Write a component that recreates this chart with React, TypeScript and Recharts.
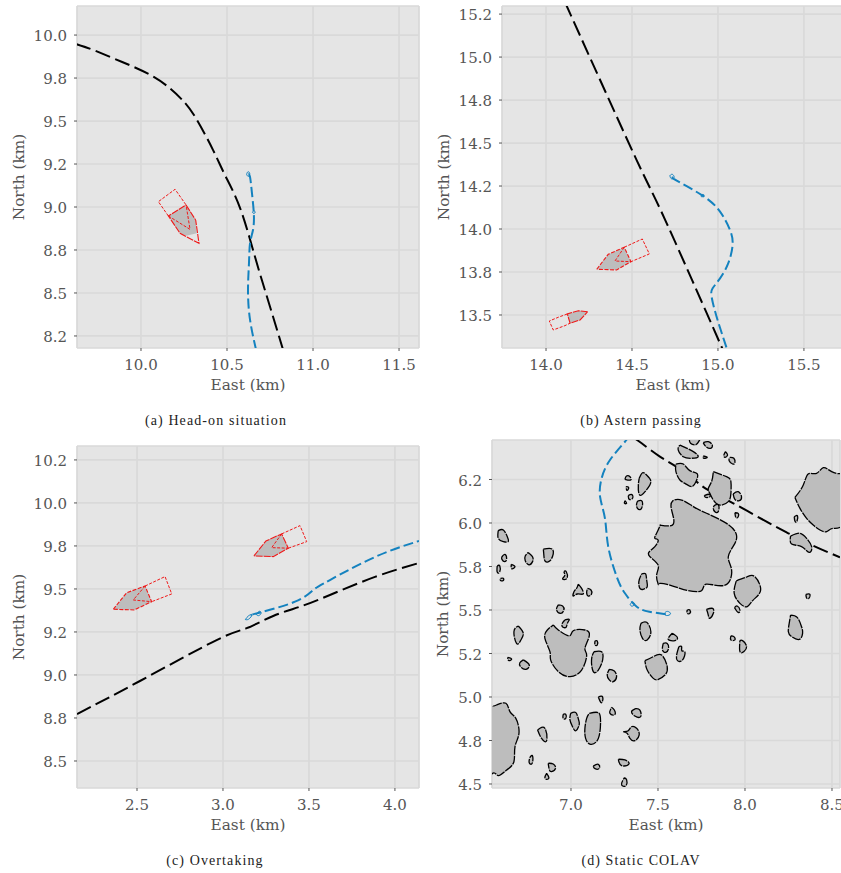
import { ScatterChart, Scatter, XAxis, YAxis, CartesianGrid } from "recharts";

type Pts = number[][];

const GRID = "#D9D9D9";
const TEXT = "#555555";
const BLUE = "#1482BF";
const RED = "#F01818";
const ROCK = "#BDBDBD";

// (a) Head-on situation
const aOwnPath: Pts = [[10.669,8.169],[10.634,8.343],[10.622,8.517],[10.628,8.68],[10.634,8.791],[10.651,8.866],[10.656,8.959],[10.645,9.081],[10.634,9.174],[10.624,9.19]];
const aOwnBlips: Pts[] = [
  [[10.648,8.97],[10.656,8.978],[10.664,8.97],[10.656,8.962]],
  [[10.614,9.19],[10.622,9.205],[10.632,9.195],[10.624,9.178]],
];
const aRefPath: Pts = [[9.622,9.948],[9.723,9.913],[9.839,9.865],[9.955,9.816],[10.072,9.758],[10.169,9.69],[10.237,9.626],[10.314,9.525],[10.419,9.331],[10.488,9.186],[10.576,8.994],[10.663,8.709],[10.738,8.459],[10.826,8.169]];
const aHull: Pts = [[10.262,9.012],[10.318,8.924],[10.337,8.789],[10.256,8.831],[10.227,8.847],[10.159,8.948],[10.262,9.012]];
const aShade: Pts = [[10.262,9.012],[10.318,8.924],[10.324,8.847],[10.256,8.831],[10.227,8.847],[10.159,8.948]];
const aZone: Pts = [[10.159,8.948],[10.101,9.031],[10.198,9.103],[10.262,9.012]];
const aWedge: Pts = [[10.159,8.948],[10.285,8.87],[10.262,9.012]];

// (b) Astern passing
const bOwnPath: Pts = [[14.74,14.3],[14.76,14.281],[14.911,14.194],[15.012,14.101],[15.07,13.994],[15.085,13.907],[15.06,13.801],[15.012,13.713],[14.969,13.655],[14.963,13.606],[14.992,13.49],[15.051,13.306]];
const bOwnBlips: Pts[] = [
  [[14.72,14.31],[14.735,14.318],[14.745,14.3],[14.73,14.292]],
  [[14.905,14.2],[14.917,14.2],[14.915,14.19],[14.903,14.188]],
];
const bRefPath: Pts = [[14.11,15.32],[14.527,14.401],[14.702,14.033],[15.012,13.335],[15.035,13.285]];
const bHull1: Pts = [[14.295,13.766],[14.362,13.853],[14.455,13.894],[14.494,13.81],[14.411,13.762],[14.295,13.766]];
const bZone1: Pts = [[14.455,13.894],[14.56,13.942],[14.601,13.855],[14.494,13.81]];
const bWedge1: Pts = [[14.455,13.894],[14.401,13.814],[14.494,13.81]];
const bHull2: Pts = [[14.242,13.519],[14.188,13.525],[14.124,13.506],[14.14,13.452],[14.198,13.471],[14.242,13.519]];
const bZone2: Pts = [[14.124,13.506],[14.072,13.487],[14.019,13.465],[14.042,13.413],[14.11,13.438],[14.14,13.452]];

// (c) Overtaking
const cOwnPath: Pts = [[3.167,9.349],[3.211,9.362],[3.419,9.426],[3.525,9.494],[3.622,9.552],[3.884,9.686],[4.14,9.779]];
const cOwnBlips: Pts[] = [
  [[3.13,9.322],[3.15,9.345],[3.168,9.348],[3.15,9.325]],
  [[3.195,9.35],[3.21,9.37],[3.222,9.36],[3.208,9.345]],
];
const cRefPath: Pts = [[2.151,8.773],[2.517,8.965],[2.963,9.203],[3.138,9.272],[3.292,9.343],[3.448,9.397],[3.622,9.465],[3.884,9.57],[4.14,9.651]];
const cHull1: Pts = [[3.18,9.692],[3.25,9.779],[3.341,9.82],[3.38,9.737],[3.292,9.688],[3.18,9.692]];
const cZone1: Pts = [[3.341,9.82],[3.448,9.868],[3.487,9.775],[3.38,9.737]];
const cWedge1: Pts = [[3.341,9.82],[3.283,9.74],[3.38,9.737]];
const cHull2: Pts = [[2.362,9.382],[2.44,9.478],[2.547,9.517],[2.585,9.426],[2.484,9.378],[2.362,9.382]];
const cZone2: Pts = [[2.547,9.517],[2.663,9.572],[2.702,9.471],[2.585,9.426]];
const cWedge2: Pts = [[2.547,9.517],[2.478,9.436],[2.585,9.426]];

// (d) Static COLAV
const dOwnPath: Pts = [[7.545,5.475],[7.45,5.49],[7.378,5.519],[7.31,5.596],[7.263,5.691],[7.214,5.864],[7.195,6.027],[7.167,6.151],[7.176,6.257],[7.224,6.362],[7.31,6.467],[7.328,6.494]];
const dOwnBlips: Pts[] = [
  [[7.535,5.48],[7.555,5.492],[7.572,5.478],[7.55,5.468]],
  [[7.34,5.53],[7.352,5.545],[7.366,5.535],[7.352,5.522]],
];
const dRefPath: Pts = [[7.362,6.489],[7.406,6.458],[7.511,6.381],[7.598,6.328],[7.722,6.237],[7.787,6.19],[7.933,6.113],[8.134,6.002],[8.249,5.941],[8.383,5.874],[8.546,5.803]];

const islandsWest: Pts[] = [
  [[6.582,5.956],[6.611,5.96],[6.634,5.921],[6.639,5.893],[6.611,5.893],[6.582,5.912]],
  [[6.603,5.806],[6.62,5.82],[6.63,5.797],[6.62,5.778],[6.603,5.791]],
  [[6.576,5.753],[6.591,5.753],[6.59,5.718],[6.576,5.718]],
  [[6.657,5.762],[6.678,5.749],[6.66,5.737]],
  [[6.595,5.682],[6.611,5.682],[6.611,5.67],[6.595,5.67]],
  [[6.754,5.831],[6.779,5.806],[6.779,5.778],[6.758,5.76],[6.737,5.783],[6.737,5.81]],
  [[6.841,5.85],[6.888,5.852],[6.898,5.822],[6.879,5.783],[6.852,5.78],[6.844,5.816]],
  [[6.959,5.72],[6.973,5.72],[6.977,5.682],[6.952,5.678],[6.963,5.695]],
  [[7.042,5.649],[7.061,5.624],[7.07,5.592],[7.036,5.592],[7.013,5.58],[7.017,5.605],[7.032,5.624]],
  [[7.095,5.624],[7.115,5.615],[7.118,5.592],[7.099,5.58],[7.09,5.6]],
  [[6.927,5.529],[6.952,5.523],[6.959,5.5],[6.94,5.481],[6.917,5.5]],
];

const islandsNorth: Pts[] = [
  [[7.31,6.251],[7.319,6.27],[7.339,6.266],[7.343,6.247]],
  [[7.392,6.257],[7.411,6.289],[7.434,6.276],[7.459,6.238],[7.434,6.19],[7.406,6.161],[7.39,6.17],[7.387,6.218]],
  [[7.316,6.209],[7.331,6.205],[7.327,6.19],[7.32,6.19]],
  [[7.329,6.157],[7.35,6.163],[7.354,6.142],[7.335,6.136]],
  [[7.31,6.128],[7.32,6.113],[7.308,6.113]],
  [[7.383,6.126],[7.406,6.128],[7.411,6.103],[7.4,6.078],[7.381,6.086],[7.377,6.109]],
  [[7.406,5.707],[7.429,5.707],[7.435,5.672],[7.438,5.634],[7.415,5.619],[7.396,5.624],[7.39,5.663]],
  [[7.68,6.488],[7.737,6.488],[7.737,6.473],[7.718,6.45],[7.687,6.458]],
  [[7.76,6.462],[7.789,6.467],[7.812,6.448],[7.802,6.429],[7.775,6.439]],
  [[7.626,6.448],[7.655,6.435],[7.703,6.41],[7.731,6.381],[7.693,6.372],[7.645,6.381],[7.616,6.42]],
  [[7.76,6.385],[7.783,6.377],[7.764,6.372]],
  [[7.888,6.41],[7.9,6.391],[7.885,6.377],[7.879,6.391]],
  [[7.913,6.377],[7.936,6.372],[7.942,6.347],[7.929,6.339],[7.909,6.358]],
  [[7.603,6.339],[7.645,6.339],[7.683,6.301],[7.726,6.282],[7.718,6.237],[7.693,6.209],[7.655,6.228],[7.626,6.247],[7.603,6.295]],
  [[7.818,6.295],[7.894,6.266],[7.919,6.238],[7.919,6.17],[7.904,6.123],[7.856,6.103],[7.818,6.132],[7.798,6.17],[7.789,6.199],[7.808,6.238]],
  [[7.932,6.167],[7.961,6.18],[7.98,6.151],[7.967,6.128],[7.942,6.136]],
  [[7.766,6.157],[7.795,6.165],[7.798,6.151],[7.775,6.147]],
  [[7.823,6.1],[7.848,6.103],[7.846,6.065],[7.827,6.065],[7.818,6.084]],
  [[7.942,6.059],[7.961,6.055],[7.961,6.036],[7.948,6.031]],
  [[8.283,6.036],[8.302,6.04],[8.298,6.008],[8.287,6.011]],
  [[8.262,5.925],[8.316,5.941],[8.354,5.912],[8.383,5.864],[8.369,5.831],[8.325,5.864],[8.268,5.879]],
];

const islandBig: Pts = [[7.511,5.988],[7.588,5.994],[7.578,6.075],[7.584,6.126],[7.636,6.132],[7.703,6.094],[7.779,6.056],[7.894,5.998],[7.948,5.941],[7.942,5.883],[7.904,5.806],[7.923,5.73],[7.885,5.643],[7.779,5.649],[7.75,5.611],[7.674,5.611],[7.626,5.624],[7.568,5.643],[7.511,5.653],[7.501,5.649],[7.492,5.701],[7.501,5.758],[7.454,5.806],[7.45,5.835],[7.482,5.864],[7.501,5.902],[7.482,5.912],[7.492,5.941],[7.511,5.983]];
const islandEast: Pts = [[8.287,6.147],[8.335,6.218],[8.363,6.282],[8.411,6.285],[8.45,6.318],[8.498,6.295],[8.551,6.285],[8.574,6.247],[8.574,6.017],[8.507,5.969],[8.469,5.95],[8.431,5.96],[8.392,5.988],[8.354,6.027],[8.316,6.084]];
const islandMidWest: Pts = [[6.898,5.414],[6.927,5.385],[6.99,5.351],[7.013,5.381],[7.08,5.385],[7.105,5.351],[7.08,5.28],[7.09,5.241],[7.061,5.155],[6.994,5.117],[6.927,5.146],[6.883,5.213],[6.879,5.261],[6.85,5.337],[6.864,5.385]];
const islandSouthWest: Pts = [[6.496,4.944],[6.534,4.944],[6.572,4.954],[6.626,4.964],[6.649,4.916],[6.683,4.877],[6.701,4.791],[6.678,4.714],[6.672,4.628],[6.63,4.58],[6.582,4.548],[6.549,4.561],[6.496,4.561]];

const islandsSouth: Pts[] = [
  [[7.95,5.668],[8.013,5.691],[8.057,5.691],[8.09,5.615],[8.047,5.557],[8.013,5.519],[7.971,5.538],[7.938,5.596]],
  [[8.35,5.59],[8.373,5.59],[8.367,5.567],[8.354,5.569]],
  [[7.94,5.513],[7.955,5.523],[7.971,5.5],[7.961,5.486]],
  [[7.668,5.5],[7.683,5.5],[7.683,5.481],[7.668,5.481]],
  [[7.779,5.504],[7.814,5.509],[7.818,5.481],[7.798,5.452],[7.789,5.471]],
  [[8.262,5.471],[8.3,5.458],[8.325,5.404],[8.331,5.366],[8.312,5.331],[8.268,5.347],[8.249,5.375],[8.254,5.423]],
  [[7.582,5.366],[7.611,5.343],[7.597,5.324],[7.559,5.331]],
  [[7.53,5.308],[7.553,5.308],[7.561,5.28],[7.545,5.257],[7.526,5.27]],
  [[7.62,5.289],[7.636,5.289],[7.637,5.266],[7.655,5.257],[7.641,5.213],[7.612,5.209],[7.607,5.241]],
  [[7.919,5.351],[7.936,5.347],[7.942,5.328],[7.919,5.328]],
  [[7.971,5.324],[7.986,5.324],[8.009,5.293],[7.994,5.261],[7.971,5.261]],
  [[7.425,5.209],[7.473,5.232],[7.521,5.241],[7.553,5.174],[7.54,5.126],[7.502,5.101],[7.473,5.107],[7.438,5.155]],
  [[6.697,5.408],[6.726,5.366],[6.71,5.324],[6.687,5.308],[6.672,5.375]],
  [[6.965,5.443],[6.99,5.446],[6.979,5.423],[6.971,5.4],[6.95,5.404],[6.952,5.427]],
  [[6.636,5.228],[6.659,5.218],[6.643,5.209]],
  [[6.726,5.213],[6.76,5.184],[6.741,5.159],[6.71,5.174],[6.706,5.197]],
  [[7.138,5.322],[7.151,5.322],[7.151,5.299],[7.138,5.299]],
  [[7.132,5.26],[7.176,5.26],[7.182,5.213],[7.157,5.155],[7.128,5.146],[7.118,5.213]],
  [[7.22,5.159],[7.247,5.151],[7.262,5.117],[7.243,5.088],[7.22,5.098],[7.208,5.126]],
  [[7.402,5.423],[7.435,5.429],[7.459,5.375],[7.438,5.328],[7.411,5.337],[7.396,5.385]],
  [[7.157,5.0],[7.182,5.0],[7.176,4.967]],
  [[7.233,4.941],[7.249,4.925],[7.251,4.898],[7.224,4.906]],
  [[7.371,4.933],[7.396,4.925],[7.4,4.887],[7.367,4.891],[7.348,4.916]],
  [[6.955,4.9],[6.97,4.9],[6.97,4.877],[6.955,4.877]],
  [[6.998,4.906],[7.028,4.91],[7.044,4.868],[7.047,4.839],[7.028,4.806],[7.009,4.829],[6.994,4.868]],
  [[7.105,4.906],[7.157,4.91],[7.17,4.858],[7.157,4.762],[7.113,4.728],[7.084,4.762],[7.08,4.82],[7.09,4.877]],
  [[6.808,4.81],[6.85,4.82],[6.86,4.749],[6.831,4.762]],
  [[6.764,4.653],[6.779,4.661],[6.777,4.619],[6.76,4.622]],
  [[6.869,4.619],[6.898,4.615],[6.911,4.59],[6.888,4.571],[6.875,4.584]],
  [[6.86,4.561],[6.873,4.536],[6.86,4.527],[6.85,4.538]],
  [[7.128,4.603],[7.157,4.613],[7.163,4.59],[7.138,4.588]],
  [[7.272,4.642],[7.31,4.638],[7.333,4.615],[7.291,4.605]],
  [[7.306,4.536],[7.32,4.523],[7.316,4.49],[7.291,4.494],[7.297,4.519]],
  [[7.3,4.801],[7.329,4.806],[7.348,4.829],[7.377,4.82],[7.392,4.782],[7.367,4.749],[7.339,4.762],[7.323,4.791]],
];

const aEastTicks = [10, 10.5, 11, 11.5];
const aEastLabels = ["10.0", "10.5", "11.0", "11.5"];
const aNorthTicks = [8.25, 8.5, 8.75, 9, 9.25, 9.5, 9.75, 10];
const aNorthLabels = ["8.2", "8.5", "8.8", "9.0", "9.2", "9.5", "9.8", "10.0"];
const bEastTicks = [14, 14.5, 15, 15.5];
const bEastLabels = ["14.0", "14.5", "15.0", "15.5"];
const bNorthTicks = [13.5, 13.75, 14, 14.25, 14.5, 14.75, 15, 15.25];
const bNorthLabels = ["13.5", "13.8", "14.0", "14.2", "14.5", "14.8", "15.0", "15.2"];
const cEastTicks = [2.5, 3, 3.5, 4];
const cEastLabels = ["2.5", "3.0", "3.5", "4.0"];
const cNorthTicks = [8.5, 8.75, 9, 9.25, 9.5, 9.75, 10, 10.25];
const cNorthLabels = ["8.5", "8.8", "9.0", "9.2", "9.5", "9.8", "10.0", "10.2"];
const dEastTicks = [7, 7.5, 8, 8.5];
const dEastLabels = ["7.0", "7.5", "8.0", "8.5"];
const dNorthTicks = [4.5, 4.75, 5, 5.25, 5.5, 5.75, 6, 6.25];
const dNorthLabels = ["4.5", "4.8", "5.0", "5.2", "5.5", "5.8", "6.0", "6.2"];

const toRows = (pts: Pts) => pts.map(([x, y]) => ({ x, y }));
const closed = (pts: Pts) => [...pts, pts[0]];
const noDot = () => <g />;

const drawPath = (pts: Pts, key: string, stroke: string, width: number, dash?: string, fill = "none", joint = "linear") => (
  <Scatter
    key={key}
    data={toRows(pts)}
    shape={noDot}
    lineJointType={joint as "linear"}
    line={{ stroke, strokeWidth: width, strokeDasharray: dash, fill }}
    isAnimationActive={false}
  />
);

interface PanelProps {
  left: number;
  top: number;
  width: number;
  height: number;
  xDomain: number[];
  yDomain: number[];
  xTicks: number[];
  yTicks: number[];
  xLabels: string[];
  yLabels: string[];
  titleOffset?: number;
  children: React.ReactNode;
}

const AXIS_W = 70;
const AXIS_H = 50;

const Panel = ({ left, top, width, height, xDomain, yDomain, xTicks, yTicks, xLabels, yLabels, titleOffset = 12, children }: PanelProps) => {
  const tick = { fill: TEXT, fontSize: 15, fontFamily: "DejaVu Serif" };
  const title = { fill: TEXT, fontSize: 15.3, fontFamily: "DejaVu Serif" };
  // the gap in the dash leaves the tick marks clear of the plot, as in the picture
  const tickLine = { stroke: TEXT, strokeDasharray: "0 1.5 3 20" };
  return (
    <div style={{ position: "absolute", left: left - AXIS_W, top: top - 5 }}>
      <ScatterChart
        width={width + AXIS_W + 12}
        height={height + AXIS_H + 5}
        margin={{ top: 5, right: 12, bottom: 0, left: 0 }}
      >
        <CartesianGrid fill="#E5E5E5" stroke={GRID} strokeWidth={1.7} />
        <XAxis
          type="number"
          dataKey="x"
          domain={xDomain}
          ticks={xTicks}
          interval={0}
          allowDataOverflow
          height={AXIS_H}
          axisLine={false}
          tickLine={tickLine}
          tickSize={4.5}
          tickMargin={7}
          tick={tick}
          tickFormatter={(v: number) => xLabels[xTicks.indexOf(v)]}
          label={{ value: "East (km)", position: "insideBottom", offset: 8, ...title }}
        />
        <YAxis
          type="number"
          dataKey="y"
          domain={yDomain}
          ticks={yTicks}
          interval={0}
          allowDataOverflow
          width={AXIS_W}
          axisLine={false}
          tickLine={tickLine}
          tickSize={4.5}
          tickMargin={5.5}
          tick={{ ...tick, dy: 1 }}
          tickFormatter={(v: number) => yLabels[yTicks.indexOf(v)]}
          label={{ value: "North (km)", angle: -90, position: "insideLeft", offset: titleOffset, style: { textAnchor: "middle" }, ...title }}
        />
        {children}
      </ScatterChart>
    </div>
  );
};

const Caption = ({ x, y, text }: { x: number; y: number; text: string }) => (
  <div
    style={{
      position: "absolute",
      left: x - 120,
      top: y - 9,
      width: 240,
      textAlign: "center",
      fontFamily: "Liberation Serif",
      fontSize: 14,
      lineHeight: "18px",
      letterSpacing: 1.1,
      color: "#222",
    }}
  >
    {text}
  </div>
);

const own = (pts: Pts, key: string) => drawPath(pts, key, BLUE, 2, "10 4", "none", "natural");
const blip = (pts: Pts, key: string) => drawPath(closed(pts), key, BLUE, 1, undefined, "none", "natural");
const ref = (pts: Pts, key: string) => drawPath(pts, key, "#000", 2, "15.5 5.5", "none", "natural");
const rock = (pts: Pts, key: string) => drawPath(closed(pts), key, "#000", 1.3, "9 1", ROCK, "natural");

const App = () => (
  <div style={{ position: "fixed", left: 0, top: 0, width: 841, height: 873, overflow: "hidden", background: "#fff" }}>
    <Panel left={77} top={6} width={342} height={342} xDomain={[9.628, 11.616]} yDomain={[8.18, 10.169]}
      xTicks={aEastTicks} yTicks={aNorthTicks} xLabels={aEastLabels} yLabels={aNorthLabels}>
      {drawPath(aZone, "zone", RED, 1, "3 1.5")}
      {drawPath(aShade, "shade", "none", 0, undefined, ROCK)}
      {drawPath(aHull, "hull", RED, 1.1, "7 1")}
      {drawPath(aWedge, "wedge", RED, 1, "3 1.5")}
      {ref(aRefPath, "ref")}
      {own(aOwnPath, "own")}
      {aOwnBlips.map((p, i) => blip(p, `blip${i}`))}
    </Panel>

    <Panel left={502} top={6} width={342} height={342} xDomain={[13.744, 15.733]} yDomain={[13.308, 15.297]}
      xTicks={bEastTicks} yTicks={bNorthTicks} xLabels={bEastLabels} yLabels={bNorthLabels}>
      {drawPath(bZone1, "zone1", RED, 1, "3 1.5")}
      {drawPath(bHull1, "hull1", RED, 1.1, "4 1.5", ROCK)}
      {drawPath(bWedge1, "wedge1", RED, 1, "3 1.5")}
      {drawPath(bZone2, "zone2", RED, 1, "3 1.5")}
      {drawPath(bHull2, "hull2", RED, 1.1, "7 1", ROCK)}
      {ref(bRefPath, "ref")}
      {own(bOwnPath, "own")}
      {bOwnBlips.map((p, i) => blip(p, `blip${i}`))}
    </Panel>

    <Panel left={77} top={446} width={342} height={342} xDomain={[2.151, 4.14]} yDomain={[8.343, 10.331]}
      xTicks={cEastTicks} yTicks={cNorthTicks} xLabels={cEastLabels} yLabels={cNorthLabels}>
      {drawPath(cZone1, "zone1", RED, 1, "3 1.5")}
      {drawPath(cHull1, "hull1", RED, 1.1, "7 1", ROCK)}
      {drawPath(cWedge1, "wedge1", RED, 1, "3 1.5")}
      {drawPath(cZone2, "zone2", RED, 1, "3 1.5")}
      {drawPath(cHull2, "hull2", RED, 1.1, "4 1.5", ROCK)}
      {drawPath(cWedge2, "wedge2", RED, 1, "3 1.5")}
      {ref(cRefPath, "ref")}
      {own(cOwnPath, "own")}
      {cOwnBlips.map((p, i) => blip(p, `blip${i}`))}
    </Panel>

    <Panel left={492} top={440} width={348} height={348} xDomain={[6.546, 8.546]} yDomain={[4.477, 6.477]}
      xTicks={dEastTicks} yTicks={dNorthTicks} xLabels={dEastLabels} yLabels={dNorthLabels} titleOffset={21}>
      {ref(dRefPath, "ref")}
      {own(dOwnPath, "own")}
      {dOwnBlips.map((p, i) => blip(p, `blip${i}`))}
      {rock(islandBig, "big")}
      {rock(islandEast, "east")}
      {rock(islandMidWest, "midwest")}
      {rock(islandSouthWest, "southwest")}
      {islandsWest.map((p, i) => rock(p, `w${i}`))}
      {islandsNorth.map((p, i) => rock(p, `n${i}`))}
      {islandsSouth.map((p, i) => rock(p, `s${i}`))}
    </Panel>

    <Caption x={216} y={421} text="(a) Head-on situation" />
    <Caption x={641} y={421} text="(b) Astern passing" />
    <Caption x={215} y={861} text="(c) Overtaking" />
    <Caption x={641} y={861} text="(d) Static COLAV" />
  </div>
);

export default App;
